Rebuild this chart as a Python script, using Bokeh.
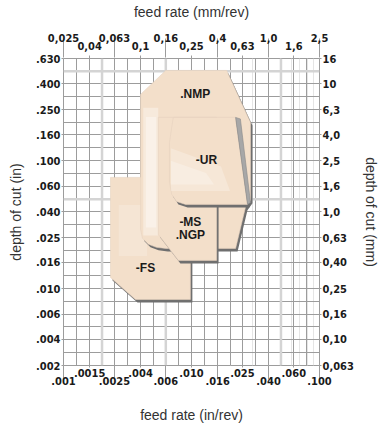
import math
from bokeh.plotting import figure
from bokeh.models import Range1d, LogAxis, FixedTicker, Grid, Span
from bokeh.core.properties import value
from bokeh.embed import file_html
from bokeh.resources import INLINE

# ---- axis ticks (inches) and labels ----
x_ticks = [0.001, 0.0016, 0.0025, 0.004, 0.0063, 0.01, 0.016, 0.025, 0.04, 0.063, 0.1]
x_labels_in = [".001", ".0015", ".0025", ".004", ".006", ".010", ".016", ".025", ".040", ".060", ".100"]
x_labels_mm = ["0,025", "0,04", "0,063", "0,1", "0,16", "0,25", "0,4", "0,63", "1,0", "1,6", "2,5"]
y_ticks = [0.0025, 0.004, 0.0063, 0.01, 0.016, 0.025, 0.04, 0.063, 0.1, 0.16, 0.25, 0.4, 0.63]
y_labels_in = [".002", ".004", ".006", ".010", ".016", ".025", ".040", ".060", ".100", ".160", ".250", ".400", ".630"]
y_labels_mm = ["0,063", "0,10", "0,16", "0,25", "0,40", "0,63", "1,0", "1,6", "2,5", "4,0", "6,3", "10", "16"]
x_light = [0.002, 0.0063, 0.05]
y_light = [0.05, 0.5]

# ---- application regions: feed (in/rev) vs depth of cut (in) ----
fs_feed = [0.00233, 0.0098, 0.0098, 0.00365, 0.00233]
fs_depth = [0.074, 0.074, 0.0082, 0.0082, 0.0122]
nmp_feed = [0.0040, 0.0063, 0.0188, 0.0289, 0.0289, 0.0264, 0.0221, 0.0063, 0.00533, 0.00461, 0.00414, 0.0040]
nmp_depth = [0.33, 0.508, 0.508, 0.199, 0.049, 0.0432, 0.0206, 0.0206, 0.021, 0.0222, 0.0247, 0.029]
ms_feed = [0.0055, 0.0157, 0.0157, 0.0079, 0.0055]
ms_depth = [0.218, 0.218, 0.0166, 0.0166, 0.0265]
ur_feed = [0.0072, 0.0221, 0.0274, 0.0090, 0.00763, 0.0070, 0.00673, 0.00673]
ur_depth = [0.218, 0.218, 0.0455, 0.0455, 0.048, 0.0546, 0.0677, 0.139]
ur_bevel_feed = [0.0221, 0.0241, 0.0289, 0.0274]
ur_bevel_depth = [0.218, 0.212, 0.047, 0.0455]

# soft light sheen on the regions (layered for a gentle gradient)
sheen_feed = [
    [0.0042, 0.0055, 0.0055, 0.0042],
    [0.0044, 0.0053, 0.0053, 0.0044],
    [0.0069, 0.0170, 0.0200, 0.0069],
    [0.0069, 0.0130, 0.0150, 0.0069],
    [0.0027, 0.0045, 0.0045, 0.0027],
]
sheen_depth = [
    [0.26, 0.26, 0.026, 0.026],
    [0.22, 0.22, 0.030, 0.030],
    [0.125, 0.090, 0.058, 0.058],
    [0.100, 0.080, 0.065, 0.065],
    [0.045, 0.045, 0.018, 0.018],
]
sheen_alpha = [0.35, 0.35, 0.25, 0.25, 0.2]

lbl_text = [".NMP", "-UR", "-MS", ".NGP", "-FS"]
lbl_feed = [0.0107, 0.0131, 0.0098, 0.0098, 0.00437]
lbl_depth = [0.33, 0.1006, 0.033, 0.026, 0.0144]

TICK_FONT = "'Liberation Sans Narrow', 'DejaVu Sans Condensed', 'Roboto Condensed', 'Liberation Sans', sans-serif"
TITLE_FONT = "Liberation Sans"
GRID = "#9c9c9c"

p = figure(frame_width=256, frame_height=307,
           x_axis_type="log", y_axis_type="log",
           x_range=Range1d(x_ticks[0], x_ticks[-1]), y_range=Range1d(y_ticks[0], y_ticks[-1]),
           x_axis_location=None, y_axis_location=None,
           toolbar_location=None, output_backend="svg",
           min_border_left=63, min_border_right=62, min_border_top=56, min_border_bottom=62,
           background_fill_color="white", border_fill_color="white",
           outline_line_color=GRID)

def geo_mid(v):
    return [math.sqrt(a * b) for a, b in zip(v[:-1], v[1:])]

xg = Grid(dimension=0, ticker=FixedTicker(ticks=x_ticks, minor_ticks=geo_mid(x_ticks)),
          grid_line_color=GRID, minor_grid_line_color=GRID, grid_line_width=1, minor_grid_line_width=1)
yg = Grid(dimension=1, ticker=FixedTicker(ticks=y_ticks, minor_ticks=geo_mid(y_ticks)),
          grid_line_color=GRID, minor_grid_line_color=GRID, grid_line_width=1, minor_grid_line_width=1)
p.add_layout(xg, "center")
p.add_layout(yg, "center")
for xv in x_light:
    p.add_layout(Span(location=xv, dimension="height", line_color="#d4d4d4", line_width=2.5, level="underlay"))
for yv in y_light:
    p.add_layout(Span(location=yv, dimension="width", line_color="#d4d4d4", line_width=2.5, level="underlay"))


def style_axis(ax, ticks, labels, tick_out, tick_in, standoff):
    ax.ticker = FixedTicker(ticks=ticks)
    ax.major_label_overrides = {t: l for t, l in zip(ticks, labels)}
    ax.axis_line_color = None
    ax.major_tick_line_color = GRID
    ax.minor_tick_line_color = None
    ax.major_tick_out = tick_out
    ax.major_tick_in = tick_in
    ax.major_label_standoff = standoff
    ax.major_label_text_font = TICK_FONT
    ax.major_label_text_font_style = "bold"
    ax.major_label_text_font_size = "11px"
    ax.major_label_text_color = "#1a1a1a"
    ax.axis_label_text_font = TITLE_FONT
    ax.axis_label_text_font_style = "normal"
    ax.axis_label_text_font_size = "14px"
    ax.axis_label_text_color = "#333333"


even_x = x_ticks[0::2]
odd_x = x_ticks[1::2]

# bottom: inner row (odd ticks), outer row (even ticks, long ticks)
b_in = LogAxis()
style_axis(b_in, odd_x, x_labels_in[1::2], 2, 0, 1)
b_out = LogAxis(axis_label="feed rate (in/rev)")
style_axis(b_out, even_x, x_labels_in[0::2], 0, 14, -3)
b_out.axis_label_standoff = 19
p.add_layout(b_in, "below")
p.add_layout(b_out, "below")

# top: inner row (odd ticks), outer row (even ticks)
t_in = LogAxis()
style_axis(t_in, odd_x, x_labels_mm[1::2], 3, 0, 6)
t_out = LogAxis(axis_label="feed rate (mm/rev)")
style_axis(t_out, even_x, x_labels_mm[0::2], 0, 19, -3)
t_out.axis_label_standoff = 11
p.add_layout(t_in, "above")
p.add_layout(t_out, "above")

l_ax = LogAxis(axis_label="depth of cut (in)")
style_axis(l_ax, y_ticks, y_labels_in, 2, 0, 1)
l_ax.axis_label_standoff = 9
p.add_layout(l_ax, "left")

r_ax = LogAxis(axis_label="depth of cut (mm)")
style_axis(r_ax, y_ticks, y_labels_mm, 2, 0, 1)
r_ax.axis_label_standoff = 6
p.add_layout(r_ax, "right")

# ---- regions ----
SH_X = 10 ** (2 / 128.0)
SH_Y = 10 ** (-3 / 128.0)
FILL = "#f3dfca"

def region(feed, depth):
    p.patch([f * SH_X for f in feed], [d * SH_Y for d in depth],
            fill_color="#6f6f6f", line_color=None)
    p.patch(feed, depth, fill_color=FILL, line_color="#e6d2bf", line_width=0.6)

def sheen(i):
    p.patch(sheen_feed[i], sheen_depth[i], fill_color="white", fill_alpha=sheen_alpha[i], line_color=None)

region(fs_feed, fs_depth)
sheen(4)
region(nmp_feed, nmp_depth)
sheen(0)
sheen(1)
region(ms_feed, ms_depth)
region(ur_feed, ur_depth)
sheen(2)
sheen(3)
p.patch(ur_bevel_feed, ur_bevel_depth, fill_color="#a7a7a7", line_color="#8a8a8a", line_width=0.6)

p.text(lbl_feed, lbl_depth, text=lbl_text, text_font=value("Liberation Sans"),
       text_font_style="bold", text_font_size="12px", text_align="center",
       text_baseline="middle", text_color="#1a1a1a")

open("out.html", "w").write(file_html(p, INLINE))
